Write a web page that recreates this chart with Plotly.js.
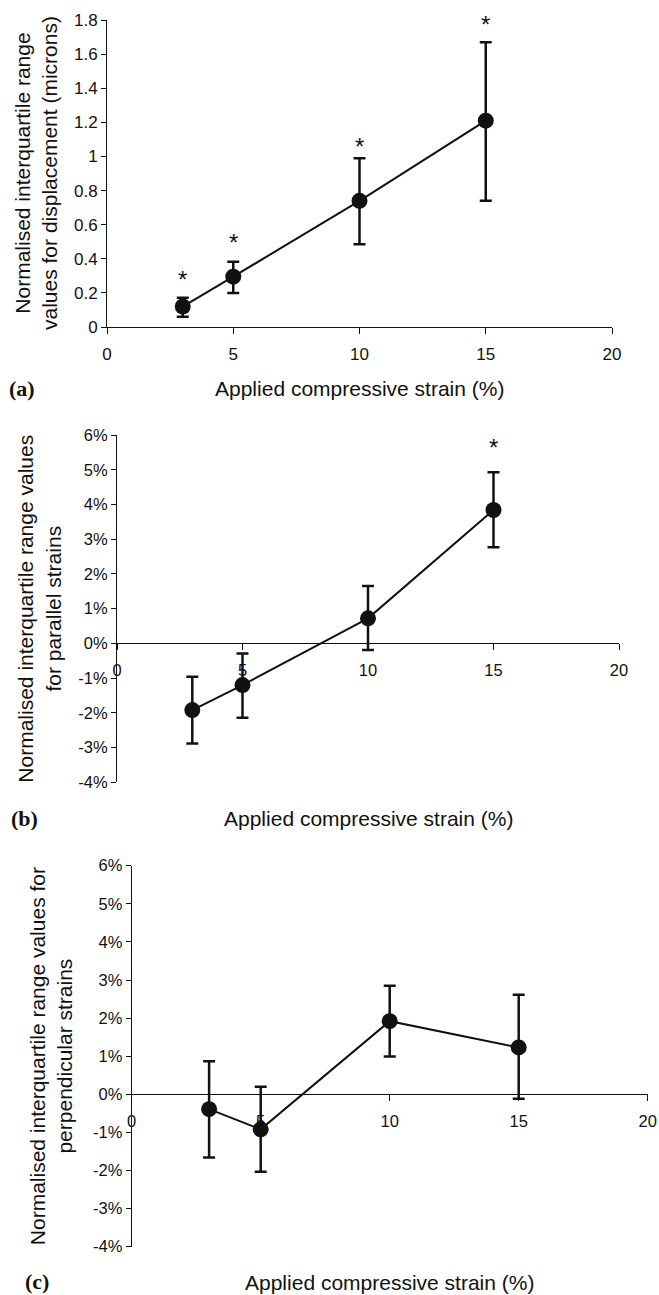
<!DOCTYPE html>
<html>
<head>
<meta charset="utf-8">
<script src="https://cdn.plot.ly/plotly-3.0.1.min.js"></script>
<style>
  html, body { margin: 0; padding: 0; background: #fff; }
  #chart { width: 659px; height: 1295px; }
</style>
</head>
<body>
<div id="chart"></div>
<script>
// Applied compressive strain (%)
const strain = [3, 5, 10, 15];

// (a) displacement IQR (microns): median point, upper and lower whisker
const dispMid   = [0.12, 0.295, 0.74, 1.21];
const dispUpper = [0.172, 0.383, 0.99, 1.67];
const dispLower = [0.06, 0.20, 0.485, 0.74];
const dispStarY = [0.30, 0.52, 1.08, 1.795];

// (b) parallel strains (%)
const parMid   = [-1.92, -1.20, 0.72, 3.84];
const parUpper = [-0.96, -0.29, 1.65, 4.93];
const parLower = [-2.88, -2.14, -0.19, 2.77];
const parStarX = [15];
const parStarY = [5.75];

// (c) perpendicular strains (%)
const perpMid   = [-0.39, -0.92, 1.92, 1.23];
const perpUpper = [0.87, 0.20, 2.85, 2.61];
const perpLower = [-1.66, -2.03, 0.99, -0.12];

// axis ticks
const xTicks = [0, 5, 10, 15, 20];
const pctTickVals = [-4, -3, -2, -1, 0, 1, 2, 3, 4, 5, 6];
const pctTickText = ['-4%', '-3%', '-2%', '-1%', '0%', '1%', '2%', '3%', '4%', '5%', '6%'];

const W = 659, H = 1295;
const FONT = 'Liberation Sans, Arial, sans-serif';
const px = v => v / W;
const py = v => 1 - v / H;

function series(mid, up, lo, xa, ya) {
  return {
    type: 'scatter', mode: 'lines+markers',
    x: strain, y: mid, xaxis: xa, yaxis: ya,
    line: { color: '#111', width: 2 },
    marker: { color: '#111', size: 16 },
    error_y: {
      type: 'data', symmetric: false,
      array: up.map((u, i) => u - mid[i]),
      arrayminus: lo.map((l, i) => mid[i] - l),
      color: '#111', thickness: 2.5, width: 6
    },
    cliponaxis: false, showlegend: false, hoverinfo: 'skip'
  };
}

const data = [
  series(dispMid, dispUpper, dispLower, 'x', 'y'),
  series(parMid, parUpper, parLower, 'x2', 'y2'),
  series(perpMid, perpUpper, perpLower, 'x3', 'y3')
];

const tickFont = { family: FONT, size: 17, color: '#111' };
const tickFontB = { family: FONT, size: 16.5, color: '#111' };

function xAxis(domain, yAnchor, pos, font) {
  const ax = {
    domain: domain, range: [0, 20], tickvals: xTicks,
    showline: true, linecolor: '#111', linewidth: 1,
    ticks: 'outside', ticklen: 6, tickcolor: '#111', tickwidth: 1,
    showgrid: false, zeroline: false, tickfont: font,
    ticklabelstandoff: 6, layer: 'below traces', fixedrange: true
  };
  if (pos === null) { ax.anchor = yAnchor; }
  else { ax.anchor = 'free'; ax.position = pos; }
  return ax;
}

function yAxis(domain, xAnchor, range, extra, font) {
  return Object.assign({
    domain: domain, anchor: xAnchor, range: range,
    showline: true, linecolor: '#111', linewidth: 1,
    ticks: 'outside', ticklen: 5, tickcolor: '#111', tickwidth: 1,
    showgrid: false, zeroline: false, tickfont: font,
    layer: 'below traces', fixedrange: true
  }, extra);
}

// panel frames (pixel positions of the plotting areas)
const A = { l: 107, r: 612, t: 20, b: 327 };
const B = { l: 117, r: 619, t: 435, b: 782.3 };
const C = { l: 131.7, r: 647.7, t: 865.7, b: 1246.7 };

const yDomB = [py(B.b), py(B.t)];
const yDomC = [py(C.b), py(C.t)];
const zeroB = yDomB[0] + (yDomB[1] - yDomB[0]) * 0.4;
const zeroC = yDomC[0] + (yDomC[1] - yDomC[0]) * 0.4;

const layout = {
  width: W, height: H,
  margin: { l: 0, r: 0, t: 0, b: 0 },
  paper_bgcolor: '#fff', plot_bgcolor: 'rgba(0,0,0,0)',
  font: { family: FONT, color: '#111' },
  xaxis: xAxis([px(A.l), px(A.r)], 'y', null, tickFont),
  yaxis: yAxis([py(A.b), py(A.t)], 'x', [0, 1.8], { dtick: 0.2, tick0: 0 }, tickFont),
  xaxis2: xAxis([px(B.l), px(B.r)], 'y2', zeroB, tickFontB),
  yaxis2: yAxis(yDomB, 'x2', [-4, 6], { tickvals: pctTickVals, ticktext: pctTickText }, tickFontB),
  xaxis3: xAxis([px(C.l), px(C.r)], 'y3', zeroC, tickFontB),
  yaxis3: yAxis(yDomC, 'x3', [-4, 6], { tickvals: pctTickVals, ticktext: pctTickText }, tickFontB),
  annotations: []
};

const titleFont = { family: FONT, size: 21, color: '#111' };
const labelFont = { family: 'Liberation Serif, Times New Roman, serif', size: 22, color: '#111' };

function addText(text, x, y, font, angle) {
  layout.annotations.push({
    xref: 'paper', yref: 'paper', x: px(x), y: py(y),
    xanchor: 'center', yanchor: 'middle', text: text,
    textangle: angle || 0, showarrow: false, font: font
  });
}

// axis titles
addText('Applied compressive strain (%)', (A.l + A.r) / 2, 388, titleFont);
addText('Applied compressive strain (%)', (B.l + B.r) / 2, 818, titleFont);
addText('Applied compressive strain (%)', (C.l + C.r) / 2, 1282, titleFont);
addText('Normalised interquartile range<br>values for displacement (microns)', 36.5, (A.t + A.b) / 2, titleFont, -90);
addText('Normalised interquartile range values<br>for parallel strains', 39, (B.t + B.b) / 2, titleFont, -90);
addText('Normalised interquartile range values for<br>perpendicular strains', 51, (C.t + C.b) / 2, titleFont, -90);

// panel letters
addText('<b>(a)</b>', 22, 388, labelFont);
addText('<b>(b)</b>', 24, 818, labelFont);
addText('<b>(c)</b>', 37, 1281, labelFont);

// asterisks flagging significant differences
const starFont = { family: FONT, size: 24, color: '#111' };
function addStars(xs, ys, xr, yr) {
  xs.forEach((s, i) => {
    layout.annotations.push({
      xref: xr, yref: yr, x: s, y: ys[i], text: '*',
      showarrow: false, font: starFont, xanchor: 'center', yanchor: 'middle', yshift: -4
    });
  });
}
addStars(strain, dispStarY, 'x', 'y');
addStars(parStarX, parStarY, 'x2', 'y2');

Plotly.newPlot('chart', data, layout, { displayModeBar: false, staticPlot: true });
</script>
</body>
</html>
